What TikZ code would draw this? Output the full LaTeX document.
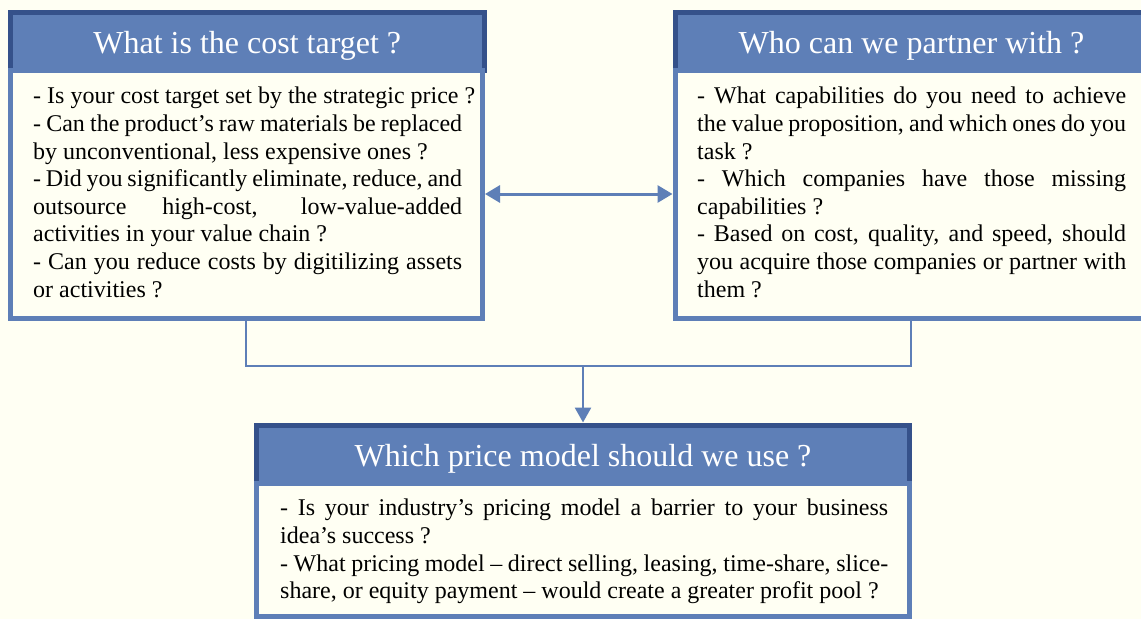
\documentclass[tikz,border=0pt]{standalone}
\usepackage{fontspec}
\setmainfont{Liberation Serif}
\usetikzlibrary{arrows.meta}

\definecolor{boxblue}{RGB}{94,127,183}
\definecolor{boxdark}{RGB}{53,81,138}
\definecolor{paper}{RGB}{255,255,243}

\setlength{\parindent}{0pt}
\tolerance=10000
\hyphenpenalty=10000
\exhyphenpenalty=10000

\begin{document}
\begin{tikzpicture}[x=1pt, y=-1pt,
    head/.style={draw=boxdark, fill=boxblue, line width=5pt, inner sep=0pt,
        text=white, font=\fontsize{32}{38}\selectfont, text height=26pt, text depth=2pt},
    panel/.style={draw=boxblue, fill=paper, line width=5pt, inner sep=0pt},
    question/.style={anchor=north west, inner sep=0pt, align=justify,
        font=\fontsize{24}{27.6}\selectfont},
    link/.style={draw=boxblue, line width=2pt},
    flow/.style={draw=boxblue, line width=2.6pt, -{Triangle[length=15pt,width=16pt]}},
    both/.style={draw=boxblue, line width=3pt,
        {Triangle[length=15pt,width=17pt]}-{Triangle[length=15pt,width=17pt]}}]

\clip (0, 0) rectangle (1141, 619);
\fill[paper] (0, 0) rectangle (1141, 619);

% cost target
\node[head, minimum width=474.5pt, minimum height=58pt] (costhead) at (247.25, 41) {What is the cost target ?};
\node[panel, minimum width=472.5pt, minimum height=248pt] (costbody) at (246.25, 194) {};
\node[question, text width=429pt] (costtext) at (33, 87)
{\makebox[\linewidth][l]{- Is your cost target set by the strategic price ?}\\
- Can the product’s raw materials be replaced\linebreak by unconventional, less expensive ones ?\\
- Did you significantly eliminate, reduce, and\linebreak outsource high-cost, low-value-added\linebreak activities in your value chain ?\\
- Can you reduce costs by digitilizing assets\linebreak or activities ?};

% partners
\node[head, minimum width=473pt, minimum height=58pt] (partnerhead) at (911.5, 41) {Who can we partner with ?};
\node[panel, minimum width=471.5pt, minimum height=248pt] (partnerbody) at (910.75, 194) {};
\node[question, text width=429pt] (partnertext) at (697, 87)
{- What capabilities do you need to achieve\linebreak the value proposition, and which ones do you\linebreak task ?\\
- Which companies have those missing\linebreak capabilities ?\\
- Based on cost, quality, and speed, should\linebreak you acquire those companies or partner with\linebreak them ?};

% price model
\node[head, minimum width=653pt, minimum height=58pt] (pricehead) at (583, 454) {Which price model should we use ?};
\node[panel, minimum width=652.5pt, minimum height=133.5pt] (pricebody) at (582.75, 549.75) {};
\node[question, text width=608pt] (pricetext) at (280, 499)
{- Is your industry’s pricing model a barrier to your business\linebreak idea’s success ?\\
- What pricing model – direct selling, leasing, time-share, slice-\linebreak share, or equity payment – would create a greater profit pool ?};

\draw[both] (costbody.east) -- (partnerbody.west);

\coordinate (join) at (583, 366);
\draw[link] (costbody.south) |- (join) -| (partnerbody.south);
\draw[flow] (join) -- (pricehead.north);

\end{tikzpicture}
\end{document}
